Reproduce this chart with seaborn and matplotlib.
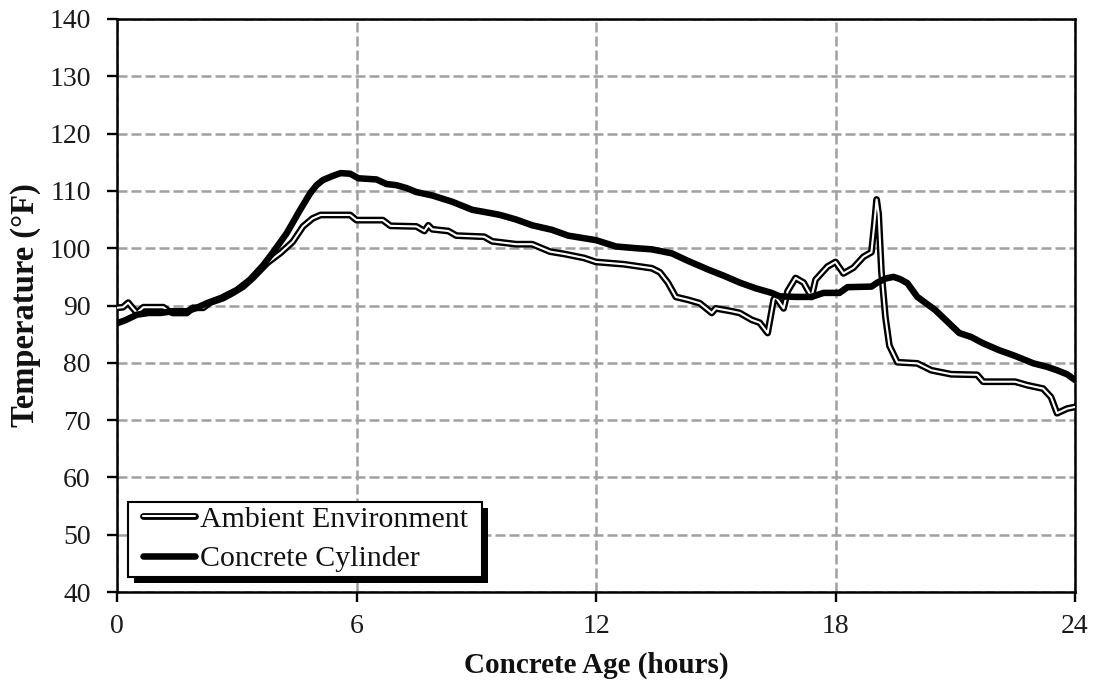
import matplotlib
matplotlib.use("Agg")
import matplotlib.pyplot as plt
from matplotlib.lines import Line2D
from matplotlib.patches import Rectangle
import numpy as np
import pandas as pd
import seaborn as sns

# ---------------- data ----------------
concrete_hours = [0.0, 0.2, 0.35, 0.5, 0.8, 1.1, 1.4, 1.75, 2.0, 2.25, 2.6, 3.0, 3.33,
                  3.66, 3.9, 4.25, 4.58, 4.84, 5.0, 5.16, 5.4, 5.6, 5.84, 6.05, 6.5,
                  6.75, 7.0, 7.25, 7.5, 7.9, 8.4, 8.9, 9.3, 9.6, 10.0, 10.4, 10.9,
                  11.3, 12.0, 12.5, 13.0, 13.4, 13.9, 14.3, 14.8, 15.2, 15.6, 16.0,
                  16.4, 16.6, 17.0, 17.4, 17.7, 18.1, 18.3, 18.9, 19.05, 19.25, 19.45,
                  19.62, 19.8, 20.05, 20.5, 20.8, 21.1, 21.4, 21.7, 22.1, 22.5, 22.96,
                  23.3, 23.55, 23.8, 24.0]
concrete_temp = [86.9, 87.4, 87.9, 88.4, 88.7, 88.7, 89.0, 89.0, 89.6, 90.4, 91.3, 92.7,
                 94.5, 97.0, 99.2, 102.6, 106.6, 109.6, 111.0, 111.9, 112.6, 113.1,
                 113.0, 112.2, 112.0, 111.2, 111.0, 110.5, 109.8, 109.2, 108.1, 106.7,
                 106.2, 105.8, 105.0, 104.0, 103.2, 102.2, 101.4, 100.3, 100.0, 99.8,
                 99.1, 97.8, 96.3, 95.2, 94.0, 93.0, 92.2, 91.6, 91.5, 91.5, 92.2, 92.2,
                 93.2, 93.3, 94.0, 94.7, 95.0, 94.6, 93.9, 91.5, 89.2, 87.2, 85.2, 84.5,
                 83.4, 82.2, 81.2, 79.9, 79.3, 78.7, 78.0, 77.0]

ambient_hours = [0.0, 0.15, 0.28, 0.4, 0.5, 0.66, 1.16, 1.3, 1.4, 1.75, 1.9, 2.16, 2.33,
                 2.66, 2.9, 3.16, 3.4, 3.76, 4.1, 4.4, 4.66, 4.9, 5.1, 5.84, 6.0, 6.66,
                 6.85, 7.5, 7.7, 7.8, 7.9, 8.3, 8.5, 9.2, 9.4, 10.0, 10.4, 10.85, 11.2,
                 11.7, 12.0, 12.7, 13.4, 13.6, 13.8, 14.0, 14.3, 14.6, 14.9, 15.0, 15.4,
                 15.6, 15.9, 16.1, 16.3, 16.45, 16.5, 16.7, 16.8, 17.0, 17.2, 17.4, 17.5,
                 17.8, 18.0, 18.2, 18.45, 18.7, 18.9, 18.97, 19.03, 19.08, 19.15, 19.25,
                 19.35, 19.55, 20.05, 20.4, 20.9, 21.55, 21.7, 22.5, 22.8, 23.2, 23.4,
                 23.55, 23.8, 24.0]
ambient_temp = [89.6, 89.7, 90.5, 89.5, 88.7, 89.7, 89.7, 89.0, 88.7, 88.7, 89.6, 89.6,
                90.5, 91.3, 92.2, 93.3, 94.8, 97.4, 99.2, 101.1, 103.8, 105.2, 105.8,
                105.8, 104.9, 104.9, 103.9, 103.8, 103.0, 104.0, 103.3, 103.0, 102.2,
                102.0, 101.2, 100.7, 100.7, 99.4, 99.0, 98.3, 97.6, 97.2, 96.5, 95.8,
                94.0, 91.5, 91.0, 90.4, 88.7, 89.5, 89.0, 88.7, 87.5, 87.0, 85.2, 91.0,
                91.5, 89.5, 92.5, 94.8, 94.0, 91.5, 94.5, 96.8, 97.6, 95.6, 96.6, 98.5,
                99.3, 104.0, 108.5, 106.0, 96.0, 88.0, 83.0, 80.1, 79.9, 78.7, 78.0,
                77.9, 76.7, 76.7, 76.1, 75.5, 74.0, 71.2, 72.0, 72.3]

series_labels = ["Ambient Environment", "Concrete Cylinder"]
x_ticks = [0, 6, 12, 18, 24]
y_ticks = [40, 50, 60, 70, 80, 90, 100, 110, 120, 130, 140]
x_label = "Concrete Age (hours)"
y_label = "Temperature (°F)"

# ---------------- style ----------------
sns.set_theme(style="white")
plt.rcParams["font.family"] = ["Liberation Serif", "DejaVu Serif"]

amb_df = pd.DataFrame({"hours": ambient_hours, "temp": ambient_temp})
con_df = pd.DataFrame({"hours": concrete_hours, "temp": concrete_temp})

W, H = 1098, 681
fig = plt.figure(figsize=(W / 100, H / 100), dpi=100)
AX_L, AX_R, AX_T, AX_B = 117, 1075, 19, 592
ax = fig.add_axes([AX_L / W, 1 - AX_B / H, (AX_R - AX_L) / W, (AX_B - AX_T) / H])
AW, AH = AX_R - AX_L, AX_B - AX_T

AMB_OUT, AMB_IN, CON_LW = 4.9, 1.5, 4.7

# ambient: double line (black outline, white core)
sns.lineplot(data=amb_df, x="hours", y="temp", ax=ax, color="black", lw=AMB_OUT,
             estimator=None, sort=False, zorder=3)
sns.lineplot(data=amb_df, x="hours", y="temp", ax=ax, color="white", lw=AMB_IN,
             estimator=None, sort=False, zorder=3.1)
# concrete: thick black
sns.lineplot(data=con_df, x="hours", y="temp", ax=ax, color="black", lw=CON_LW,
             estimator=None, sort=False, zorder=3.2)

ax.set_xlim(0, 24)
ax.set_ylim(40, 140)
ax.set_xticks(x_ticks)
ax.set_yticks(y_ticks)
ax.set_xlabel(x_label, fontsize=21, fontweight="bold", labelpad=9, color="#111111")
ax.set_ylabel(y_label, fontsize=23.5, fontweight="bold", labelpad=6, color="#111111")

ax.grid(True, color="#a0a0a0", linestyle=(0, (4.0, 1.6)), linewidth=1.8)
ax.set_axisbelow(True)
for s in ax.spines.values():
    s.set_color("black")
    s.set_linewidth(1.8)
    s.set_visible(True)
ax.tick_params(axis="both", direction="out", length=7, width=1.7, color="black",
               labelsize=20, labelcolor="#1a1a1a", bottom=True, left=True)
ax.tick_params(axis="y", pad=12)
ax.tick_params(axis="x", pad=9)

# legend: contents without frame, frame + solid shadow drawn as patches
h_amb = (Line2D([], [], color="black", lw=AMB_OUT),
         Line2D([], [], color="white", lw=AMB_IN))
h_con = Line2D([], [], color="black", lw=CON_LW)
leg = ax.legend([h_amb, h_con], series_labels, loc="upper left",
                bbox_to_anchor=((143 - AX_L) / AW, (AX_B - 506) / AH), borderaxespad=0,
                fontsize=21.5, frameon=False, handlelength=1.75, handletextpad=0.15,
                labelspacing=0.42, borderpad=0)
for t in leg.get_texts():
    t.set_color("#111111")
leg.set_zorder(6)

fx0, fx1, fy0, fy1 = 128, 482, 502, 577  # frame in pixels
frame = Rectangle(((fx0 - AX_L) / AW, (AX_B - fy1) / AH), (fx1 - fx0) / AW,
                  (fy1 - fy0) / AH, transform=ax.transAxes, facecolor="white",
                  edgecolor="black", lw=1.5, zorder=5.95)
shadow = Rectangle(((fx0 - AX_L + 6) / AW, (AX_B - fy1 - 6) / AH), (fx1 - fx0) / AW,
                   (fy1 - fy0) / AH, transform=ax.transAxes, facecolor="black",
                   edgecolor="none", zorder=5.9)
ax.add_patch(shadow)
ax.add_patch(frame)

fig.savefig("out.png", dpi=100)
